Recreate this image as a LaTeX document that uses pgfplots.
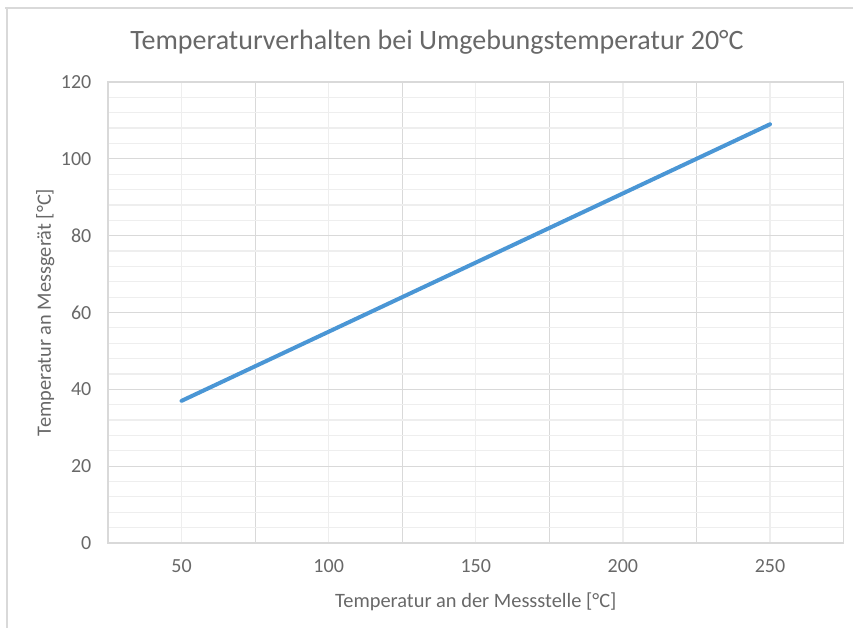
\documentclass[border=0pt]{standalone}
\usepackage{pgfplots}
\pgfplotsset{compat=1.18}
\usepackage{fontspec}
\setmainfont{Carlito}
\definecolor{txt}{RGB}{104,104,104}
\definecolor{majg}{RGB}{217,217,217}
\definecolor{ming}{RGB}{238,238,238}
\definecolor{lineblue}{RGB}{74,150,213}
\begin{document}
\begin{tikzpicture}[x=0.75pt,y=0.75pt]
\useasboundingbox (0,0) rectangle (853,628);
\draw[majg,line width=1.2pt] (5,620) -- (853,620);
\draw[majg,line width=1.2pt] (7,620) -- (7,0);
\begin{axis}[
  at={(81pt,63.75pt)}, anchor=south west,
  scale only axis,
  width=551.7pt, height=345.75pt,
  xmin=25, xmax=275, ymin=0, ymax=120,
  xtick={50,100,150,200,250},
  minor x tick num=1,
  ytick={0,20,...,120},
  minor y tick num=4,
  grid=both,
  major x grid style={ming,line width=0.9pt},
  minor x grid style={majg,line width=0.9pt},
  major y grid style={majg,line width=0.9pt},
  minor y grid style={ming,line width=0.9pt},
  major tick length=0pt, minor tick length=0pt,
  axis line style={majg,line width=0.9pt},
  /pgf/number format/assume math mode=true,
  tick label style={font=\fontsize{15}{16}\selectfont, text=txt},
  xticklabel style={yshift=-9pt},
  yticklabel style={xshift=-9pt},
  xlabel={Temperatur an der Messstelle [°C]},
  ylabel={Temperatur an Messgerät [°C]},
  label style={font=\fontsize{15.3}{17}\selectfont, text=txt},
  xlabel style={yshift=-8pt},
  ylabel style={yshift=-2pt},
  clip=false,
]
\addplot[lineblue, line width=3pt, line cap=round] coordinates {
(50,37) (100,55) (150,73) (200,91) (250,109)
};
\end{axis}
\node[text=txt, font=\fontsize{21}{24}\selectfont] at (437,586) {Temperaturverhalten bei Umgebungstemperatur 20°C};
\end{tikzpicture}
\end{document}
